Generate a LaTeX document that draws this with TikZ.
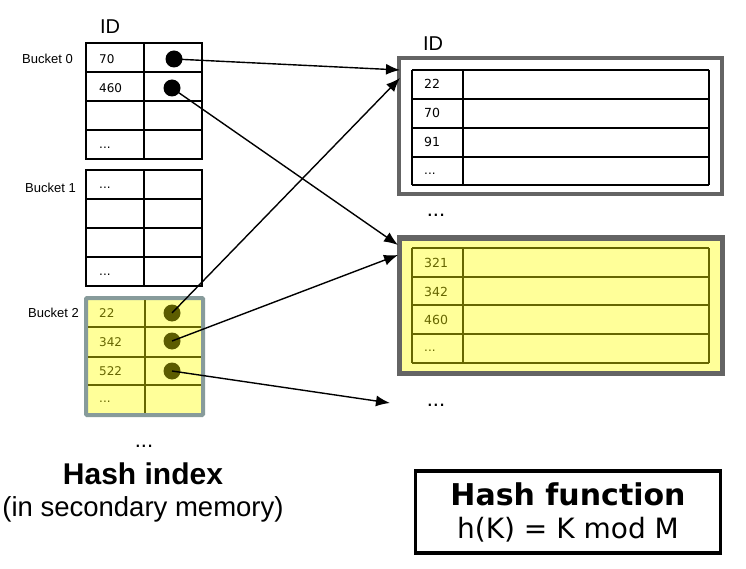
\documentclass[tikz,border=0pt]{standalone}
\usepackage{fontspec}
\setmainfont{Liberation Sans}
\newfontfamily\verdfont{DejaVu Sans}
\usepackage{xcolor}
\usepackage{tikz}
\usetikzlibrary{arrows.meta, positioning}
\definecolor{paleyellow}{RGB}{255,255,153}
\definecolor{olive}{RGB}{102,102,0}
\definecolor{bucketgray}{RGB}{135,155,155}
\definecolor{framegray}{RGB}{100,100,100}

\begin{document}
\begin{tikzpicture}[x=1pt, y=-1pt,
  tbl/.style={line width=2.8pt, line cap=rect},
  num/.style={anchor=west, inner sep=0pt, font=\verdfont\fontsize{12}{14}\selectfont},
  lbl/.style={anchor=east, inner sep=0pt, font=\fontsize{13}{15}\selectfont},
  dot/.style={circle, fill=black, inner sep=0pt, minimum size=17pt},
  ptr/.style={line width=1.4pt, -{Latex[length=14pt, width=11pt]}},
  more/.style={anchor=base, inner sep=0pt, font=\fontsize{22}{24}\selectfont}]
\useasboundingbox (0,0) rectangle (746,569);

% bucket 0 and bucket 1 (plain tables)
\foreach \y in {43,72,101,130,159,170,199,228,257,286}
  \draw[tbl] (86,\y) -- (202,\y);
\foreach \x in {86,144,202}{
  \draw[tbl] (\x,43) -- (\x,159);
  \draw[tbl] (\x,170) -- (\x,286);
}
% bucket 2 (on yellow)
\draw[fill=paleyellow, draw=bucketgray, line width=4pt, rounded corners=1pt] (86,298) rectangle (203,415);
\foreach \y in {327,357,385}
  \draw[tbl, olive, line cap=butt] (88,\y) -- (201,\y);
\draw[tbl, olive, line cap=butt] (145,300) -- (145,413);

\node[inner sep=0pt, font=\fontsize{20}{22}\selectfont] (idleft) at (110,27) {ID};
\node[lbl] (bk0) at (73,59) {Bucket 0};
\node[lbl] (bk1) at (76,188) {Bucket 1};
\node[lbl] (bk2) at (79,313) {Bucket 2};

\node[num] (b0a) at (99,59) {70};
\node[num] (b0b) at (99,88) {460};
\node[num] (b0d) at (99,148) {...};
\node[num] (b1a) at (99,188) {...};
\node[num] (b1d) at (99,275) {...};
\node[num, olive] (b2a) at (99,313) {22};
\node[num, olive] (b2b) at (99,342) {342};
\node[num, olive] (b2c) at (99,371) {522};
\node[num, olive] (b2d) at (99,402) {...};

\node[dot] (p70) at (174,59) {};
\node[dot] (p460) at (172,88) {};
\node[dot, fill=olive!90!black] (p22) at (172,313) {};
\node[dot, fill=olive!90!black] (p342) at (172,341) {};
\node[dot, fill=olive!90!black] (p522) at (172,371) {};

% data blocks
\draw[framegray, line width=4pt] (399,58) rectangle (722,194);
\foreach \y in {70,99,128,157,185}
  \draw[tbl, line cap=butt] (412,\y) -- (709,\y);
\foreach \x in {412,463,709}
  \draw[tbl, line cap=butt] (\x,70) -- (\x,185);

\draw[fill=paleyellow, draw=framegray, line width=5pt] (399,238) rectangle (722,373);
\foreach \y in {248,277,305,334,363}
  \draw[tbl, olive, line cap=butt] (412,\y) -- (709,\y);
\foreach \x in {412,463,709}
  \draw[tbl, olive, line cap=butt] (\x,248) -- (\x,363);

\node[inner sep=0pt, font=\fontsize{20}{22}\selectfont] (idright) at (433,44) {ID};
\node[num, font=\verdfont\fontsize{12.5}{14}\selectfont] (r1a) at (424,84) {22};
\node[num, font=\verdfont\fontsize{12.5}{14}\selectfont] (r1b) at (424,113) {70};
\node[num, font=\verdfont\fontsize{12.5}{14}\selectfont] (r1c) at (424,142) {91};
\node[num] (r1d) at (424,174) {...};
\node[num, olive, font=\verdfont\fontsize{12.5}{14}\selectfont] (r2a) at (424,263) {321};
\node[num, olive, font=\verdfont\fontsize{12.5}{14}\selectfont] (r2b) at (424,292) {342};
\node[num, olive, font=\verdfont\fontsize{12.5}{14}\selectfont] (r2c) at (424,320) {460};
\node[num, olive] (r2d) at (424,351) {...};

\node[more] (moreA) at (436,217) {...};
\node[more] (moreB) at (436,406) {...};
\node[more] (moreL) at (144,447) {...};

% pointers
\coordinate (inA1) at (400,70);
\coordinate (inA2) at (400,78);
\coordinate (inB1) at (398,245);
\coordinate (inB2) at (398,255);
\coordinate (inC) at (390,403);
\draw[ptr] (p70.center) -- (inA1);
\draw[ptr] (p22.center) -- (inA2);
\draw[ptr] (p460.center) -- (inB1);
\draw[ptr] (p342.center) -- (inB2);
\draw[ptr] (p522.center) -- (inC);

\node[align=center, inner sep=0pt, font=\fontsize{27.5}{32}\selectfont] (hidx) at (143,492)
  {{\fontsize{30}{32}\selectfont\bfseries Hash index}\\
   (in secondary memory)};
\node[draw, line width=3.5pt, minimum width=305pt, minimum height=82pt, align=center, inner sep=0pt,
  font=\verdfont\fontsize{28}{33}\selectfont] (hashfn) at (568,512)
  {{\fontsize{30}{33}\selectfont\bfseries Hash function}\\
   h(K) = K mod M};
\end{tikzpicture}
\end{document}
